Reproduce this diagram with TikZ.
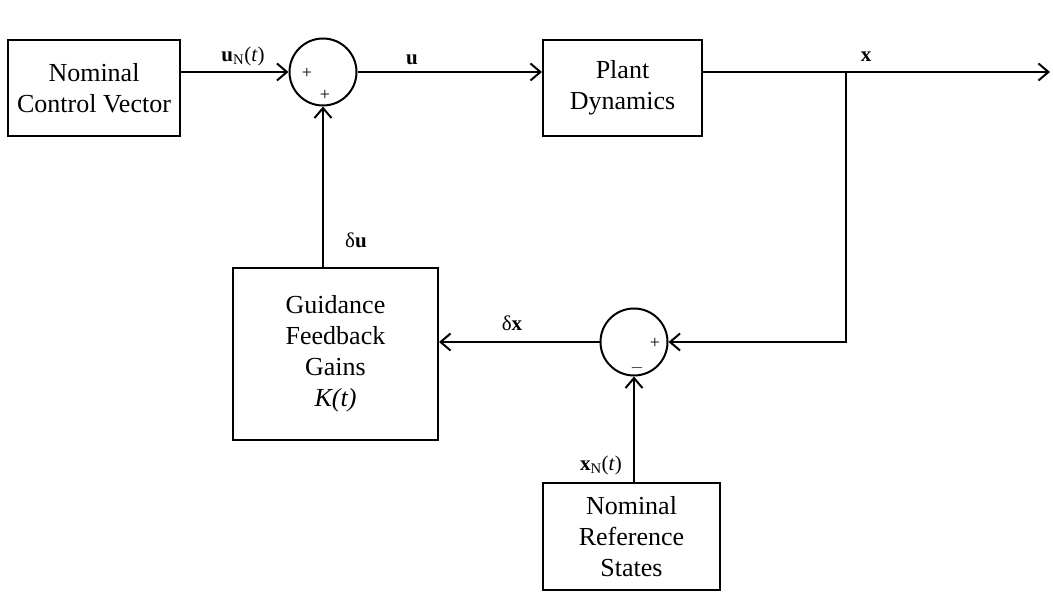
\documentclass[tikz,border=0pt]{standalone}
\usepackage{fontspec}
\setmainfont{Liberation Serif}
\usepackage{tikz}
\usetikzlibrary{arrows.meta,positioning}
\tikzset{
  ar/.style={-{Straight Barb[length=10pt,width=17pt,line width=2pt]},line width=2pt},
  blk/.style={draw,line width=2pt,align=center,inner sep=2pt,font=\fontsize{26}{31}\selectfont},
  sumj/.style={draw,circle,line width=2pt,minimum size=67pt,inner sep=0pt},
  lbl/.style={font=\fontsize{21}{23}\selectfont,inner sep=1pt},
  sgn/.style={font=\fontsize{18}{18}\selectfont,inner sep=0pt}
}
\begin{document}
\begin{tikzpicture}[x=1pt,y=-1pt]
\useasboundingbox (0,0) rectangle (1053,593);
% blocks
\node[blk,minimum width=172pt,minimum height=96pt] (ncv) at (94,88) {Nominal\\Control Vector};
\node[blk,minimum width=159pt,minimum height=96pt] (plant) at (622.5,88) {Plant\\Dynamics};
\node[blk,minimum width=205pt,minimum height=172pt] (gain) at (335.5,354) {Guidance\\Feedback\\Gains\\\textit{K(t)}};
\node[blk,minimum width=177pt,minimum height=107pt] (nrs) at (631.5,536.5) {Nominal\\Reference\\States};
% summing junctions
\node[sgn] at (307,73) {+};
\node[sgn] at (325,95) {+};
\node[sumj] (s1) at (323,72) {};
\node[sumj] (s2) at (634,342) {};
\node[sgn] at (655,343) {+};
\node[sgn] at (637,368) {$-$};
% points
\coordinate (br) at (846,72);
\coordinate (out) at (1050,72);
% connectors
\draw[ar] (ncv.east |- s1.west) -- (s1.west);
\draw[ar] (s1.east) -- (s1.east -| plant.west);
\draw[ar] (plant.east |- s1.east) -- (out);
\draw[ar] (br) |- (s2.east);
\draw[ar] (s2.west) -- (s2.west -| gain.east);
\draw[ar] (gain.north -| s1.south) -- (s1.south);
\draw[ar] (nrs.north -| s2.south) -- (s2.south);
% labels
\node[lbl] at (243,56) {\textbf{u}\textsubscript{N}(\textit{t})};
\node[lbl] at (412,60) {\textbf{u}};
\node[lbl] at (866,57) {\textbf{x}};
\node[lbl] at (356,240) {δ\textbf{u}};
\node[lbl] at (512,323) {δ\textbf{x}};
\node[lbl] at (601,465) {\textbf{x}\textsubscript{N}(\textit{t})};
\end{tikzpicture}
\end{document}
